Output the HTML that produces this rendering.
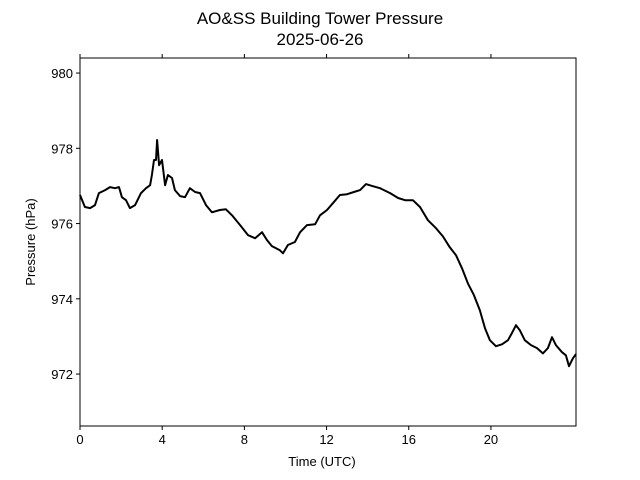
<!DOCTYPE html>
<html><head><meta charset="utf-8"><style>
body{margin:0;background:#fff;}
svg{display:block;font-family:"Liberation Sans","DejaVu Sans",sans-serif;}
</style></head><body>
<svg id="chart" width="640" height="480">
<text x="320" y="24" text-anchor="middle" font-size="17">AO&amp;SS Building Tower Pressure</text>
<text x="320" y="45" text-anchor="middle" font-size="17">2025-06-26</text>
<g id="axes"></g>
<path id="line" fill="none" stroke="#000" stroke-width="2" stroke-linejoin="round"/>
<rect x="80" y="58" width="496" height="368" fill="none" stroke="#000" stroke-width="1"/>
<text x="322" y="466" text-anchor="middle" font-size="13">Time (UTC)</text>
<text transform="translate(35,242) rotate(-90)" text-anchor="middle" font-size="13">Pressure (hPa)</text>
</svg>
<script>
const times=[0,0.24,0.49,0.73,0.92,1.22,1.46,1.70,1.90,2.04,2.24,2.43,2.68,2.97,3.21,3.41,3.50,3.60,3.70,3.75,3.85,3.99,4.14,4.28,4.48,4.62,4.87,5.11,5.35,5.60,5.84,6.13,6.42,6.81,7.10,7.40,7.79,8.18,8.52,8.86,9.10,9.34,9.73,9.88,10.12,10.46,10.71,11.05,11.44,11.68,12.02,12.31,12.65,13.00,13.33,13.63,13.92,14.21,14.60,15.09,15.48,15.82,16.20,16.55,16.93,17.32,17.66,18.00,18.30,18.59,18.88,19.17,19.46,19.71,19.95,20.24,20.54,20.83,21.02,21.22,21.41,21.65,21.95,22.24,22.53,22.77,22.97,23.16,23.46,23.65,23.80,23.99,24.14];
const pressures=[976.76,976.44,976.41,976.49,976.81,976.89,976.97,976.94,976.97,976.70,976.62,976.41,976.49,976.81,976.94,977.02,977.29,977.69,977.69,978.22,977.55,977.69,977.02,977.29,977.21,976.89,976.73,976.70,976.94,976.84,976.81,976.49,976.30,976.36,976.38,976.22,975.96,975.69,975.61,975.77,975.56,975.40,975.29,975.21,975.43,975.51,975.77,975.96,975.98,976.22,976.36,976.54,976.76,976.78,976.84,976.89,977.05,977.00,976.94,976.81,976.68,976.62,976.62,976.44,976.09,975.88,975.66,975.37,975.16,974.81,974.41,974.10,973.70,973.22,972.90,972.74,972.79,972.90,973.09,973.30,973.16,972.90,972.77,972.69,972.55,972.69,972.98,972.77,972.58,972.50,972.21,972.42,972.53];
const xTicks=[0,4,8,12,16,20];
const yTicks=[972,974,976,978,980];
const X0=80,X1=576,Y0=58,Y1=426,xMin=0,xMax=24.14,yMin=970.62,yMax=980.4;
function sx(t){return X0+(t-xMin)/(xMax-xMin)*(X1-X0);}
function sy(p){return Y1-(p-yMin)/(yMax-yMin)*(Y1-Y0);}
const NS="http://www.w3.org/2000/svg";
const axes=document.getElementById('axes');
function mk(tag,attrs){const e=document.createElementNS(NS,tag);for(const k in attrs)e.setAttribute(k,attrs[k]);return e;}
xTicks.forEach(t=>{
  const x=sx(t);
  const tk=mk('line',{x1:x,x2:x,y1:Y1,y2:Y1+4,stroke:'#000'});
  
  
  axes.appendChild(tk);
  const tt=mk('line',{x1:x,x2:x,y1:Y0,y2:Y0-4,stroke:'#000'});
  
  
  axes.appendChild(tt);
  const lb=mk('text',{x:x,y:Y1+18,'text-anchor':'middle','font-size':13});
  lb.textContent=t;
  
  
  axes.appendChild(lb);
});
yTicks.forEach(p=>{
  const y=sy(p);
  const tk=mk('line',{x1:X0-4,x2:X0,y1:y,y2:y,stroke:'#000'});
  
  
  axes.appendChild(tk);
  const lb=mk('text',{x:X0-7,y:y+5,'text-anchor':'end','font-size':13});
  lb.textContent=p;
  
  
  axes.appendChild(lb);
});
document.getElementById('line').setAttribute('d',times.map((t,i)=>(i?'L':'M')+sx(t).toFixed(1)+','+sy(pressures[i]).toFixed(1)).join(''));
</script>
</body></html>
